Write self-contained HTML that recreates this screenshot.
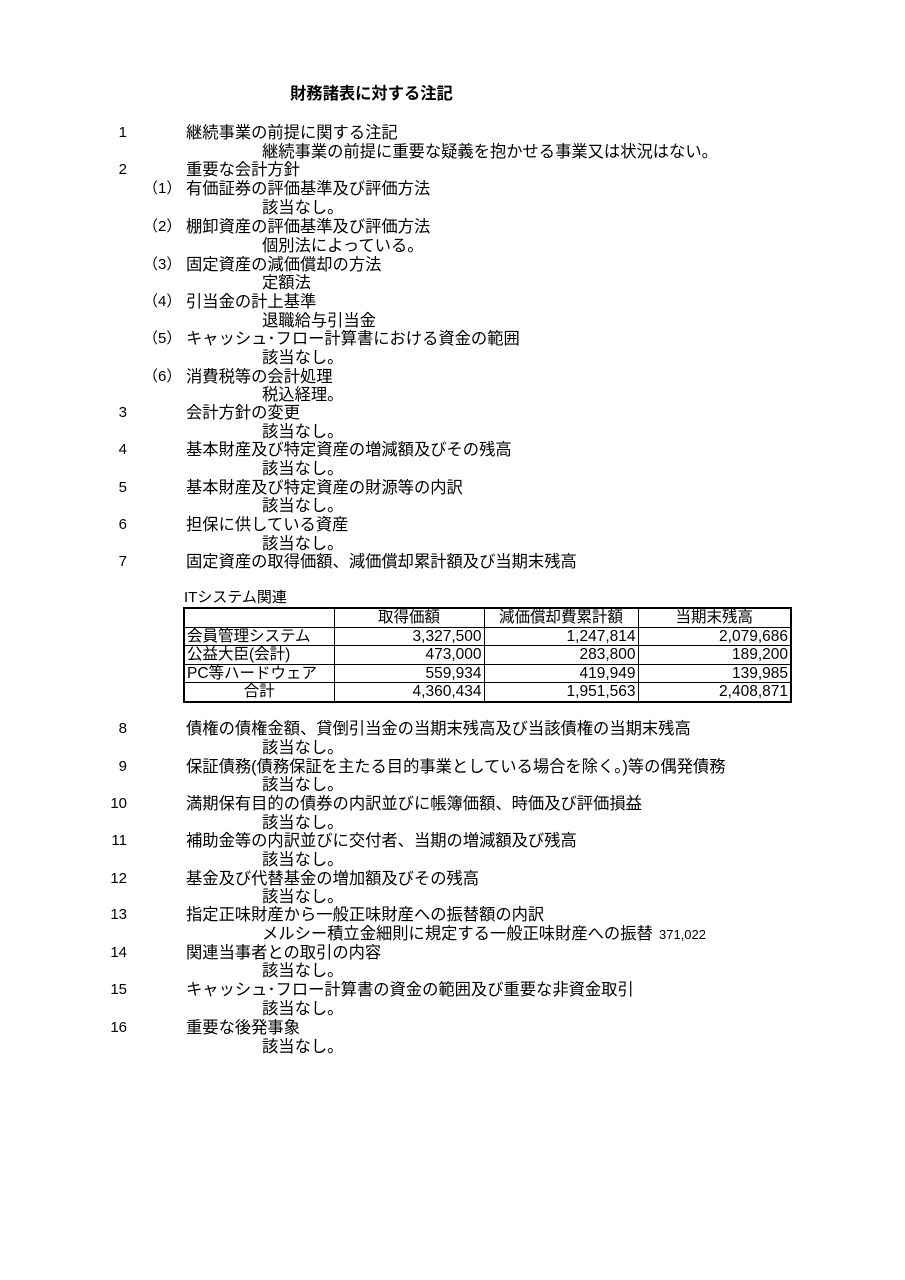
<!DOCTYPE html>
<html><head><meta charset="utf-8"><style>
body{margin:0;width:905px;height:1280px;background:#fff;position:relative;font-family:"Liberation Sans","Noto Sans CJK JP",sans-serif;color:#000;}
.l{position:absolute;font-size:16.3px;line-height:18px;white-space:nowrap}
.n{position:absolute;font-size:15px;line-height:18px;width:60px;text-align:right;left:67px}
.p{position:absolute;font-size:15px;line-height:18px;left:143px}
table{position:absolute;left:183px;top:607px;border-collapse:collapse;font-size:15.5px;table-layout:fixed;width:607px;border:2px solid #000}
td{border:1px solid #000;height:17.5px;padding:0 2px;line-height:17px;white-space:nowrap;overflow:hidden}
td.r{text-align:right}
</style></head><body>
<div class="l" style="left:290px;top:85px;font-weight:bold">財務諸表に対する注記</div>

<div class="n" style="top:124px">1</div><div class="l" style="left:186px;top:124px">継続事業の前提に関する注記</div>
<div class="l" style="left:262px;top:143px">継続事業の前提に重要な疑義を抱かせる事業又は状況はない。</div>
<div class="n" style="top:161px">2</div><div class="l" style="left:186px;top:161px">重要な会計方針</div>
<div class="p" style="top:180px">（1）</div><div class="l" style="left:186px;top:180px">有価証券の評価基準及び評価方法</div>
<div class="l" style="left:262px;top:199px">該当なし。</div>
<div class="p" style="top:218px">（2）</div><div class="l" style="left:186px;top:218px">棚卸資産の評価基準及び評価方法</div>
<div class="l" style="left:262px;top:237px">個別法によっている。</div>
<div class="p" style="top:256px">（3）</div><div class="l" style="left:186px;top:256px">固定資産の減価償却の方法</div>
<div class="l" style="left:262px;top:274px">定額法</div>
<div class="p" style="top:293px">（4）</div><div class="l" style="left:186px;top:293px">引当金の計上基準</div>
<div class="l" style="left:262px;top:312px">退職給与引当金</div>
<div class="p" style="top:330px">（5）</div><div class="l" style="left:186px;top:330px">キャッシュ･フロー計算書における資金の範囲</div>
<div class="l" style="left:262px;top:349px">該当なし。</div>
<div class="p" style="top:368px">（6）</div><div class="l" style="left:186px;top:368px">消費税等の会計処理</div>
<div class="l" style="left:262px;top:386px">税込経理。</div>
<div class="n" style="top:404px">3</div><div class="l" style="left:186px;top:404px">会計方針の変更</div>
<div class="l" style="left:262px;top:423px">該当なし。</div>
<div class="n" style="top:441px">4</div><div class="l" style="left:186px;top:441px">基本財産及び特定資産の増減額及びその残高</div>
<div class="l" style="left:262px;top:460px">該当なし。</div>
<div class="n" style="top:479px">5</div><div class="l" style="left:186px;top:479px">基本財産及び特定資産の財源等の内訳</div>
<div class="l" style="left:262px;top:497px">該当なし。</div>
<div class="n" style="top:516px">6</div><div class="l" style="left:186px;top:516px">担保に供している資産</div>
<div class="l" style="left:262px;top:535px">該当なし。</div>
<div class="n" style="top:553px">7</div><div class="l" style="left:186px;top:553px">固定資産の取得価額、減価償却累計額及び当期末残高</div>

<div class="l" style="left:184px;top:589px;font-size:15px">ITシステム関連</div>
<table>
<colgroup><col style="width:150px"><col style="width:150px"><col style="width:154px"><col style="width:153px"></colgroup>
<tr><td></td><td style="text-align:center">取得価額</td><td style="text-align:center">減価償却費累計額</td><td style="text-align:center">当期末残高</td></tr>
<tr><td>会員管理システム</td><td class="r">3,327,500</td><td class="r">1,247,814</td><td class="r">2,079,686</td></tr>
<tr><td>公益大臣(会計)</td><td class="r">473,000</td><td class="r">283,800</td><td class="r">189,200</td></tr>
<tr><td>PC等ハードウェア</td><td class="r">559,934</td><td class="r">419,949</td><td class="r">139,985</td></tr>
<tr><td style="text-align:center">合計</td><td class="r">4,360,434</td><td class="r">1,951,563</td><td class="r">2,408,871</td></tr>
</table>

<div class="n" style="top:720px">8</div><div class="l" style="left:186px;top:720px">債権の債権金額、貸倒引当金の当期末残高及び当該債権の当期末残高</div>
<div class="l" style="left:262px;top:739px">該当なし。</div>
<div class="n" style="top:758px">9</div><div class="l" style="left:186px;top:758px">保証債務(債務保証を主たる目的事業としている場合を除く。)等の偶発債務</div>
<div class="l" style="left:262px;top:776px">該当なし。</div>
<div class="n" style="top:795px">10</div><div class="l" style="left:186px;top:795px">満期保有目的の債券の内訳並びに帳簿価額、時価及び評価損益</div>
<div class="l" style="left:262px;top:814px">該当なし。</div>
<div class="n" style="top:832px">11</div><div class="l" style="left:186px;top:832px">補助金等の内訳並びに交付者、当期の増減額及び残高</div>
<div class="l" style="left:262px;top:851px">該当なし。</div>
<div class="n" style="top:870px">12</div><div class="l" style="left:186px;top:870px">基金及び代替基金の増加額及びその残高</div>
<div class="l" style="left:262px;top:888px">該当なし。</div>
<div class="n" style="top:906px">13</div><div class="l" style="left:186px;top:906px">指定正味財産から一般正味財産への振替額の内訳</div>
<div class="l" style="left:262px;top:925px">メルシー積立金細則に規定する一般正味財産への振替</div>
<div class="l" style="left:659px;top:926px;font-size:13px">371,022</div>
<div class="n" style="top:944px">14</div><div class="l" style="left:186px;top:944px">関連当事者との取引の内容</div>
<div class="l" style="left:262px;top:962px">該当なし。</div>
<div class="n" style="top:981px">15</div><div class="l" style="left:186px;top:981px">キャッシュ･フロー計算書の資金の範囲及び重要な非資金取引</div>
<div class="l" style="left:262px;top:1000px">該当なし。</div>
<div class="n" style="top:1019px">16</div><div class="l" style="left:186px;top:1019px">重要な後発事象</div>
<div class="l" style="left:262px;top:1038px">該当なし。</div>
</body></html>
